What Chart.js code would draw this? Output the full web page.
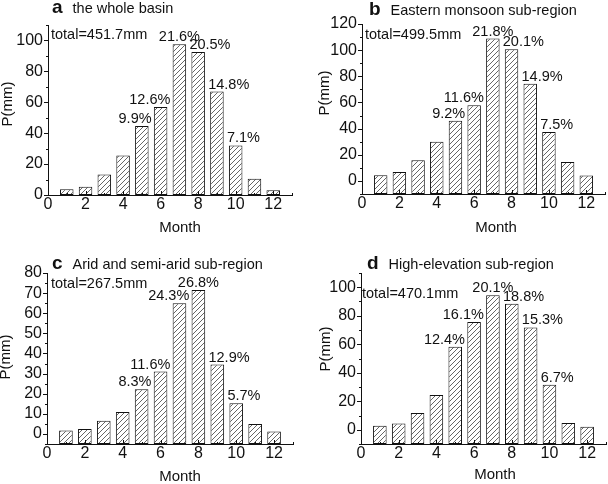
<!DOCTYPE html>
<html>
<head>
<meta charset="UTF-8">
<script src="https://cdn.jsdelivr.net/npm/chart.js@4.4.0/dist/chart.umd.min.js"></script>
</head>
<body style="margin:0;width:608px;font-size:0;line-height:0;background:#fff">
<canvas id="pa" width="304" height="242" style="display:inline-block"></canvas><canvas id="pb" width="304" height="242" style="display:inline-block"></canvas><canvas id="pc" width="304" height="242" style="display:inline-block"></canvas><canvas id="pd" width="304" height="242" style="display:inline-block"></canvas>
<div id="err" style="font:11px monospace;line-height:13px;color:red;position:absolute;left:0;top:440px;width:608px"></div>

<script>
window.onerror = (m, s, l) => { document.getElementById('err').textContent += m + ' @' + l + ' ' }

// ── data ─────────────────────────────────────────────────────────────
const months = [1, 2, 3, 4, 5, 6, 7, 8, 9, 10, 11, 12]
const xTicks = [0, 2, 4, 6, 8, 10, 12]

const basinP   = [3.7, 5.4, 13.3, 25.6, 44.7, 56.9, 97.6, 92.6, 66.9, 32.1, 10.5, 3.0]
const basinPct = [null, null, null, null, '9.9%', '12.6%', '21.6%', '20.5%', '14.8%', '7.1%', null, null]
const basinYTicks = [0, 20, 40, 60, 80, 100]

const eastP   = [4.3, 6.9, 15.8, 30.0, 46.0, 57.9, 108.9, 100.6, 74.4, 37.5, 14.5, 4.1]
const eastPct = [null, null, null, null, '9.2%', '11.6%', '21.8%', '20.1%', '14.9%', '7.5%', null, null]
const eastYTicks = [0, 20, 40, 60, 80, 100, 120]

const aridP   = [1.7, 2.5, 6.6, 10.9, 22.2, 31.0, 65.0, 71.5, 34.5, 15.2, 5.0, 1.2]
const aridPct = [null, null, null, null, '8.3%', '11.6%', '24.3%', '26.8%', '12.9%', '5.7%', null, null]
const aridYTicks = [0, 10, 20, 30, 40, 50, 60, 70, 80]

const highP   = [2.8, 4.4, 11.7, 24.4, 58.2, 75.6, 94.3, 88.4, 71.8, 31.5, 4.7, 2.1]
const highPct = [null, null, null, null, '12.4%', '16.1%', '20.1%', '18.8%', '15.3%', '6.7%', null, null]
const highYTicks = [0, 20, 40, 60, 80, 100]

// ── panel layout (canvas px) ─────────────────────────────────────────
const panels = [
  { id: 'pa', letter: 'a', name: 'the whole basin', total: 'total=451.7mm', values: basinP, pct: basinPct,
    yMin: 0, yMax: 110, yTicks: basinYTicks, yMinor: 10,
    box: { left: 48, right: 292, top: 25, bottom: 195 },
    titleAt: [52, 13], totalAt: [51, 35], yTitleAt: [8, 104], xTitleAt: [180, 228] },
  { id: 'pb', letter: 'b', name: 'Eastern monsoon sub-region', total: 'total=499.5mm', values: eastP, pct: eastPct,
    yMin: -10, yMax: 120, yTicks: eastYTicks, yMinor: 10,
    box: { left: 58, right: 301, top: 24, bottom: 194 },
    titleAt: [65, 15], totalAt: [61, 35], yTitleAt: [21, 93], xTitleAt: [192, 228] },
  { id: 'pc', letter: 'c', name: 'Arid and semi-arid sub-region', total: 'total=267.5mm', values: aridP, pct: aridPct,
    yMin: -5, yMax: 80, yTicks: aridYTicks, yMinor: 5,
    box: { left: 47, right: 293, top: 31, bottom: 202 },
    titleAt: [52, 27], totalAt: [51, 42], yTitleAt: [6, 115], xTitleAt: [180, 235] },
  { id: 'pd', letter: 'd', name: 'High-elevation sub-region', total: 'total=470.1mm', values: highP, pct: highPct,
    yMin: -10, yMax: 110, yTicks: highYTicks, yMinor: 10,
    box: { left: 57, right: 302, top: 31, bottom: 202 },
    titleAt: [63, 27], totalAt: [58, 52], yTitleAt: [22, 107], xTitleAt: [191, 233] },
]

const FONT = "'Liberation Sans', Arial, sans-serif"
const INK  = '#111'

function hatch() {
  const c = document.createElement('canvas')
  c.width = c.height = 5
  const g = c.getContext('2d')
  g.fillStyle = '#fff'
  g.fillRect(0, 0, 5, 5)
  g.strokeStyle = '#555'
  g.lineWidth = 0.9
  g.beginPath()
  g.moveTo(0, 5); g.lineTo(5, 0)
  g.moveTo(-1, 1); g.lineTo(1, -1)
  g.moveTo(4, 6); g.lineTo(6, 4)
  g.stroke()
  return g.createPattern(c, 'repeat')
}

// axis frame and tick marks as filled rectangles (one path)
function axisPath(chart, p) {
  const ctx = chart.ctx
  const xs = chart.scales.x
  const ys = chart.scales.y
  const ax = Math.round(xs.getPixelForValue(0))
  const ay = Math.round(ys.getPixelForValue(p.yMin))
  const top = Math.round(ys.getPixelForValue(p.yMax))
  const right = Math.round(xs.getPixelForValue(13))
  ctx.save()
  ctx.fillStyle = INK
  ctx.beginPath()
  ctx.rect(ax, top, 1, ay - top + 1)
  ctx.rect(ax, ay, right - ax, 1)
  for (let v = p.yMin; v <= p.yMax + 1e-9; v += p.yMinor) {
    const py = Math.round(ys.getPixelForValue(v))
    const len = p.yTicks.includes(v) ? 4 : 2
    ctx.rect(ax - len, py, len, 1)
  }
  for (let v = 0; v <= 13; v++) {
    const px = Math.round(xs.getPixelForValue(v))
    const len = v % 2 === 0 ? 4 : 2
    ctx.rect(px, ay - len, 1, len)
  }
  ctx.fill()
  ctx.restore()
}

function makeDecor(p) {
  return {
    id: 'decor' + p.id,
    beforeDatasetsDraw(chart) { axisPath(chart, p) },
    afterDraw(chart) {
      axisPath(chart, p)
      const ctx = chart.ctx
      ctx.save()
      ctx.fillStyle = INK
      ctx.textBaseline = 'alphabetic'
      ctx.textAlign = 'left'
      ctx.font = `bold 19px ${FONT}`
      ctx.fillText(p.letter, p.titleAt[0], p.titleAt[1])
      const lw = ctx.measureText(p.letter).width
      ctx.font = `14.5px ${FONT}`
      ctx.fillText(p.name, p.titleAt[0] + lw + 10, p.titleAt[1])

      ctx.textBaseline = 'middle'
      ctx.fillText(p.total, p.totalAt[0], p.totalAt[1])

      ctx.font = `15px ${FONT}`
      ctx.textAlign = 'center'
      ctx.fillText('Month', p.xTitleAt[0], p.xTitleAt[1])
      ctx.save()
      ctx.translate(p.yTitleAt[0], p.yTitleAt[1])
      ctx.rotate(-Math.PI / 2)
      ctx.fillText('P(mm)', 0, 0)
      ctx.restore()

      // percentages: left of the peak hug the bar's right edge, right of it the left edge
      ctx.font = `14.5px ${FONT}`
      ctx.textBaseline = 'alphabetic'
      const peak = p.values.indexOf(Math.max(...p.values))
      chart.getDatasetMeta(0).data.forEach((bar, i) => {
        const t = p.pct[i]
        if (!t) return
        const half = bar.width / 2
        let tx = bar.x
        if (i < peak) { ctx.textAlign = 'right'; tx = bar.x + half + 3 }
        else if (i > peak) { ctx.textAlign = 'left'; tx = bar.x - half - 2 }
        else ctx.textAlign = 'center'
        ctx.fillText(t, tx, bar.y - 3)
      })
      ctx.restore()
    }
  }
}

const pattern = hatch()

for (const p of panels) {
  const H = 242, W = 304
  new Chart(document.getElementById(p.id), {
    type: 'bar',
    data: {
      datasets: [{
        data: months.map((m, i) => ({ x: m, y: p.values[i] })),
        backgroundColor: pattern,
        borderColor: INK,
        borderWidth: 1,
        borderSkipped: false,
        base: p.yMin,
        barPercentage: 0.72,
        categoryPercentage: 1,
      }]
    },
    options: {
      responsive: false,
      animation: false,
      layout: { padding: { top: p.box.top, right: W - p.box.right, left: 0, bottom: 0 } },
      plugins: { legend: { display: false }, tooltip: { enabled: false } },
      scales: {
        x: {
          type: 'linear', min: 0, max: 13, offset: false,
          afterBuildTicks: s => { s.ticks = xTicks.map(v => ({ value: v })) },
          afterFit: s => { s.height = H - p.box.bottom },
          grid: { display: false, drawTicks: false },
          border: { display: true, color: INK, width: 1 },
          ticks: { color: INK, padding: 0, maxRotation: 0, autoSkip: false, font: { family: FONT, size: 16 } },
        },
        y: {
          min: p.yMin, max: p.yMax,
          afterBuildTicks: s => { s.ticks = p.yTicks.map(v => ({ value: v })) },
          afterFit: s => { s.width = p.box.left },
          grid: { display: false, drawTicks: false },
          border: { display: true, color: INK, width: 1 },
          ticks: { color: INK, padding: 5, autoSkip: false, font: { family: FONT, size: 16 } },
        }
      }
    },
    plugins: [makeDecor(p)]
  })
}
</script>
</body>
</html>
